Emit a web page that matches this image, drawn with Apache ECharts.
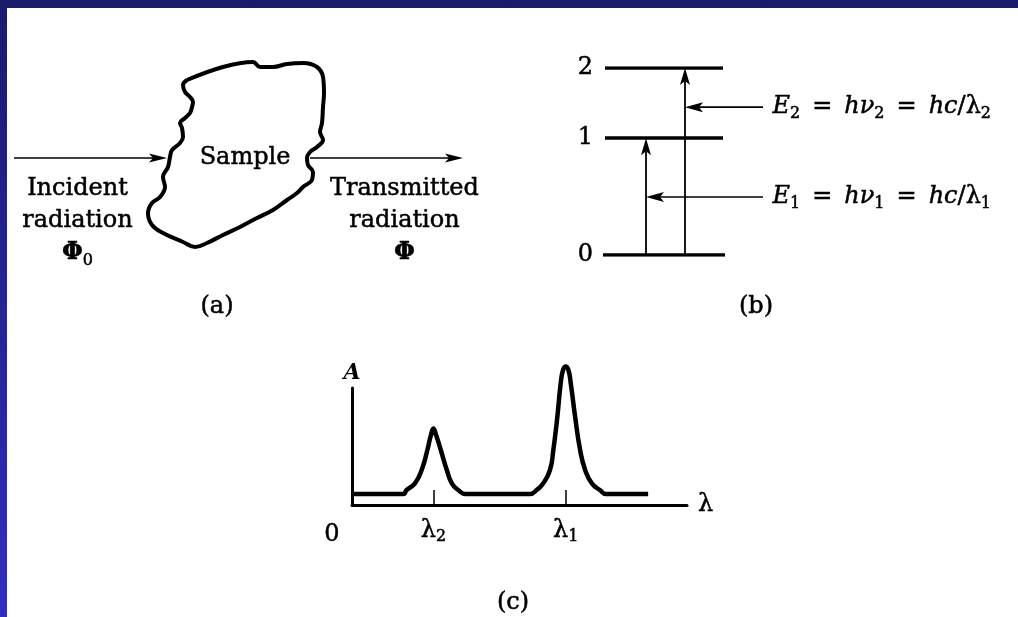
<!DOCTYPE html>
<html>
<head>
<meta charset="utf-8">
<script src="https://cdn.jsdelivr.net/npm/echarts@6.0.0/dist/echarts.min.js"></script>
<style>
  html, body { margin: 0; padding: 0; }
  #frame { position: relative; width: 1018px; height: 617px; overflow: hidden;
           background: linear-gradient(to bottom, #1a1a6c, #2f2fc0); }
  #chart { position: absolute; left: 7px; top: 8px; width: 1011px; height: 609px; background: #fff; }
</style>
</head>
<body>
<div id="frame"><div id="chart"></div></div>
<script>
// (a) outline of the sample, panel units
var blobX = [17.7, 21.3, 24.3, 25.0, 26.3, 27.7, 29.3, 30.7, 31.3, 31.4, 31.3, 31.2, 31.0, 31.3, 30.7, 30.0, 29.7, 29.8, 30.3, 30.2,
  29.3, 28.7, 27.7, 26.3, 24.7, 23.0, 21.3, 19.7, 18.5, 17.3, 15.3, 14.2, 13.8, 14.2, 15.0, 15.5, 15.3, 15.8, 16.0, 16.2,
  17.0, 17.3, 17.2, 17.0, 17.5, 18.0, 18.2, 18.3, 18.0, 17.5, 17.3, 17.7];
var blobY = [20.0, 21.3, 21.8, 21.3, 21.3, 21.6, 21.7, 21.3, 20.3, 18.7, 17.3, 15.7, 14.8, 14.0, 13.3, 12.8, 12.2, 11.5, 10.8, 10.0,
  9.3, 8.7, 8.0, 7.0, 6.2, 5.3, 4.5, 3.7, 3.3, 3.8, 4.7, 5.5, 6.7, 7.7, 8.3, 9.3, 10.3, 11.3, 12.3, 13.0,
  13.7, 14.3, 15.2, 15.7, 16.2, 16.7, 17.3, 17.8, 18.3, 18.8, 19.5, 20.0];
// beams: [x1, y1, x2, y2]
var beams = [[0.4, 12.2, 15.7, 12.2], [30.0, 12.2, 45.3, 12.2]];
var beamTextX = [6.75, 39.45];
var beamTextY = [5.9, 5.9];
var beamText = [['Incident', 'radiation'], ['Transmitted', 'radiation']];
var fluxSub = ['0', ''];

// (b) energy levels
var levelE = [0, 1.0, 1.6];
var levelNames = ['0', '1', '2'];
var levelStart = [0.3, 0.5, 0.5];
var levelEnd = [12.5, 12.3, 12.3];
var transitions = [[4.6, 0, 4.6, 1.0], [8.5, 0, 8.5, 1.6]];
var pointers = [[16.3, 1.265, 8.5, 1.265], [16.3, 0.496, 4.6, 0.496]];
var formulaY = [1.265, 0.496];
var formulaIdx = ['2', '1'];

// (c) absorption spectrum
var specX = [0, 15.3, 16.3, 18.8, 20.8, 22.5, 23.5, 24.3, 25.2, 26.5, 28.3, 29.8, 31.7, 34.0,
  53.1, 55.1, 57.1, 59.1, 60.1, 61.3, 62.3, 63.0, 63.8, 64.6, 65.3, 66.6, 68.1, 69.6, 71.6, 74.0, 75.8, 88.4];
var specA = [0.094, 0.094, 0.128, 0.185, 0.299, 0.470, 0.590, 0.654, 0.590, 0.470, 0.299, 0.185, 0.128, 0.094,
  0.094, 0.128, 0.185, 0.299, 0.470, 0.755, 1.040, 1.154, 1.184, 1.154, 1.040, 0.755, 0.470, 0.299, 0.185, 0.128, 0.094, 0.094];
var tickVals = [24.3, 63.8];
var tickLabelVals = [0, 24.3, 63.8];
var tickLabels = ['0', 'λ2', 'λ1'];

var serif = 'DejaVu Serif';
var ink = '#000';

function makeArrow(width, headLen, headHalf) {
  return function (params, api) {
    var p1 = api.coord([api.value(0), api.value(1)]);
    var p2 = api.coord([api.value(2), api.value(3)]);
    var dx = p2[0] - p1[0], dy = p2[1] - p1[1];
    var len = Math.sqrt(dx * dx + dy * dy) || 1;
    var ux = dx / len, uy = dy / len;
    var bx = p2[0] - ux * headLen, by = p2[1] - uy * headLen;
    var nx = bx + ux * 4, ny = by + uy * 4;
    return {
      type: 'group',
      children: [
        { type: 'line', shape: { x1: p1[0], y1: p1[1], x2: nx, y2: ny }, style: { stroke: ink, lineWidth: width } },
        { type: 'polygon', shape: { points: [p2, [bx - uy * headHalf, by + ux * headHalf], [nx, ny], [bx + uy * headHalf, by - ux * headHalf]] },
          style: { fill: ink } }
      ]
    };
  };
}

function nearest(list, v) {
  var best = 0;
  for (var i = 1; i < list.length; i++) {
    if (Math.abs(list[i] - v) < Math.abs(list[best] - v)) best = i;
  }
  return best;
}

// a thin outline of the same colour makes the glyphs a bit heavier, like the print
var heavy = { textBorderColor: ink, textBorderWidth: 0.5 };
function rs(o) { return Object.assign({ fontFamily: serif, color: ink }, heavy, o); }
var textRich = {
  t: rs({ fontSize: 24, lineHeight: 32 }),
  p: rs({ fontSize: 24, fontWeight: 'bold', lineHeight: 32 }),
  s: rs({ fontSize: 16, lineHeight: 16, verticalAlign: 'bottom' }),
  i: rs({ fontSize: 24, fontStyle: 'italic', lineHeight: 30 }),
  r: rs({ fontSize: 24, lineHeight: 30 }),
  z: rs({ fontSize: 24, padding: [6, 40, 0, 0] }),
  l: rs({ fontSize: 24, lineHeight: 28 })
};

var chart = echarts.init(document.getElementById('chart'));

chart.setOption({
  backgroundColor: '#fff',
  animation: false,
  grid: [
    { left: 3, top: 32, width: 480, height: 240, outerBoundsMode: 'none' },
    { left: 593, top: 60, width: 400, height: 187, outerBoundsMode: 'none' },
    { left: 345, top: 380, width: 335, height: 117, outerBoundsMode: 'none' }
  ],
  xAxis: [
    { gridIndex: 0, type: 'value', min: 0, max: 48, show: false },
    { gridIndex: 1, type: 'value', min: 0, max: 40, show: false },
    {
      gridIndex: 2, type: 'value', min: 0, max: 100,
      splitLine: { show: false },
      axisLine: { show: true, lineStyle: { color: ink, width: 3 } },
      axisTick: { show: true, customValues: tickVals, inside: true, length: 15, lineStyle: { color: ink, width: 1.5 } },
      axisLabel: {
        show: true, customValues: tickLabelVals, margin: 12, rich: textRich,
        formatter: function (v) {
          var name = tickLabels[nearest(tickLabelVals, v)];
          if (name.length === 1) return '{z|' + name + '}';
          return '{l|' + name.charAt(0) + '}{s|' + name.charAt(1) + '}';
        }
      },
      name: 'λ', nameLocation: 'end', nameGap: 11,
      nameTextStyle: Object.assign({ fontFamily: serif, fontSize: 24, color: ink, padding: [10, 0, 0, 0] }, heavy)
    }
  ],
  yAxis: [
    { gridIndex: 0, type: 'value', min: 0, max: 24, show: false },
    {
      gridIndex: 1, type: 'value', min: 0, max: 1.6,
      splitLine: { show: false }, axisLine: { show: false }, axisTick: { show: false },
      axisLabel: Object.assign({
        customValues: levelE, margin: 7, fontFamily: serif, fontSize: 24, color: ink,
        formatter: function (v) { return levelNames[nearest(levelE, v)]; }
      }, heavy)
    },
    {
      gridIndex: 2, type: 'value', min: 0, max: 1,
      splitLine: { show: false },
      axisLine: { show: true, lineStyle: { color: ink, width: 3 } },
      axisTick: { show: false }, axisLabel: { show: false },
      name: 'A', nameLocation: 'end', nameGap: 4,
      nameTextStyle: { fontFamily: serif, fontSize: 22, fontStyle: 'italic', fontWeight: 'bold', color: ink }
    }
  ],
  graphic: ['(a)', '(b)', '(c)'].map(function (t, i) {
    var pos = [[210, 299], [749, 299], [506, 595]][i];
    return {
      type: 'text', x: pos[0], y: pos[1],
      style: { text: t, font: '24px "DejaVu Serif"', fill: ink, stroke: ink, lineWidth: 0.5,
        align: 'center', verticalAlign: 'middle', textAlign: 'center', textVerticalAlign: 'middle' }
    };
  }),
  series: [
    {
      type: 'line', xAxisIndex: 0, yAxisIndex: 0, clip: false,
      data: blobX.map(function (x, i) { return [x, blobY[i]]; }),
      smooth: 0.4, symbol: 'none',
      lineStyle: { color: ink, width: 4 }
    },
    {
      type: 'custom', xAxisIndex: 0, yAxisIndex: 0,
      renderItem: makeArrow(1.6, 18, 4.5), encode: { x: [0, 2], y: [1, 3] },
      data: beams
    },
    {
      type: 'scatter', xAxisIndex: 0, yAxisIndex: 0, symbolSize: 1, clip: false,
      itemStyle: { color: 'transparent', opacity: 1 },
      data: [{ value: [23.5, 12.2], label: { formatter: '{t|Sample}' } }].concat(beamTextX.map(function (x, i) {
        var sub = fluxSub[i] ? '{s|' + fluxSub[i] + '}' : '';
        return {
          value: [x, beamTextY[i]],
          label: { formatter: '{t|' + beamText[i][0] + '}\n{t|' + beamText[i][1] + '}\n{p|Φ}' + sub }
        };
      })),
      label: { show: true, position: 'inside', rich: textRich, align: 'center', opacity: 1, color: ink }
    },
    {
      type: 'lines', coordinateSystem: 'cartesian2d', xAxisIndex: 1, yAxisIndex: 1,
      symbol: 'none',
      lineStyle: { color: ink, width: 3.5, opacity: 1 },
      data: levelE.map(function (e, i) { return { coords: [[levelStart[i], e], [levelEnd[i], e]] }; })
    },
    {
      type: 'custom', xAxisIndex: 1, yAxisIndex: 1,
      renderItem: makeArrow(1.8, 17, 5), encode: { x: [0, 2], y: [1, 3] },
      data: transitions
    },
    {
      type: 'custom', xAxisIndex: 1, yAxisIndex: 1,
      renderItem: makeArrow(1.6, 18, 5), encode: { x: [0, 2], y: [1, 3] },
      data: pointers
    },
    {
      type: 'scatter', xAxisIndex: 1, yAxisIndex: 1, symbolSize: 1, clip: false,
      itemStyle: { color: 'transparent', opacity: 1 },
      data: formulaY.map(function (y, i) {
        var k = formulaIdx[i];
        return {
          value: [17.2, y],
          label: { formatter: '{i|E}{s|' + k + '}{r|\u2002=\u2002}{i|hν}{s|' + k + '}{r|\u2002=\u2002}{i|hc}{r|/λ}{s|' + k + '}' }
        };
      }),
      label: { show: true, position: 'right', distance: 0, rich: textRich, opacity: 1, color: ink }
    },
    {
      type: 'line', xAxisIndex: 2, yAxisIndex: 2, clip: false,
      data: specX.map(function (x, i) { return [x, specA[i]]; }),
      smooth: 0.5, symbol: 'none',
      lineStyle: { color: ink, width: 4.5 }
    }
  ]
});
</script>
</body>
</html>
